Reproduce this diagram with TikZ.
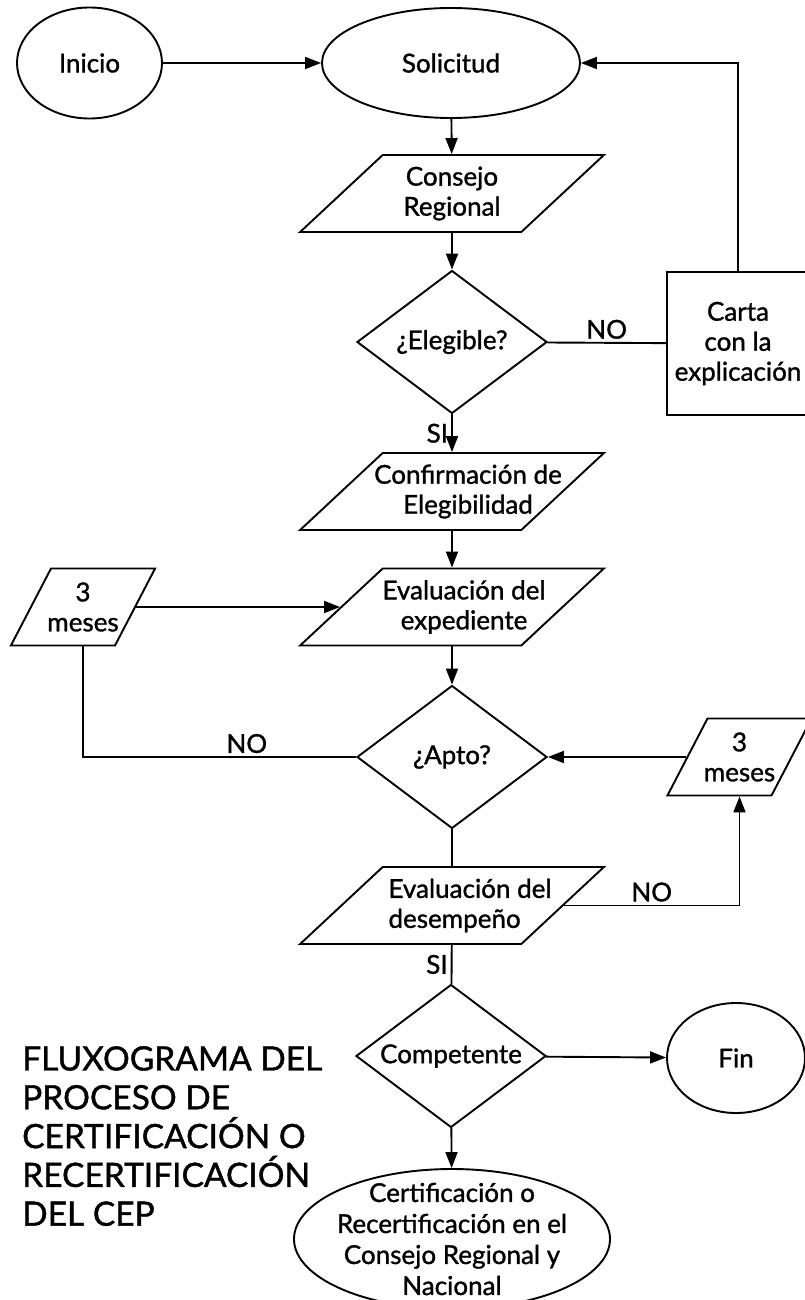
\documentclass[tikz,border=0pt]{standalone}
\usepackage{fontspec}
\setmainfont{Lato}[FakeBold=1.2]
\usetikzlibrary{shapes.geometric,arrows.meta}

\tikzset{
  linea/.style={line width=1.9pt},
  flecha/.style={linea, -{Triangle[length=16pt,width=12pt]}},
  terminal/.style={ellipse, draw, line width=1.9pt, inner sep=0pt},
  datos/.style={trapezium, draw, line width=1.9pt, trapezium left angle=43,
    trapezium right angle=137, inner xsep=69.3pt, inner ysep=38.5pt},
  plazo/.style={trapezium, draw, line width=1.9pt, trapezium left angle=62.5,
    trapezium right angle=117.5, inner xsep=32pt, inner ysep=38.5pt, align=center},
  decision/.style={diamond, draw, line width=1.9pt, inner sep=0pt, shape aspect=1.33,
    minimum width=190pt, minimum height=143pt},
  caja/.style={rectangle, draw, line width=1.9pt, minimum width=142pt,
    minimum height=143pt, align=center},
  etiqueta/.style={inner sep=3pt}
}

\begin{document}
\begin{tikzpicture}[x=1pt, y=-1pt, font=\fontsize{26}{30}\selectfont]
  \useasboundingbox (0,0) rectangle (804,1300);

  % Inicio y solicitud
  \node[terminal, minimum width=145pt, minimum height=111pt] (inicio) at (89.5,63) {Inicio};
  \node[terminal, minimum width=258pt, minimum height=110pt] (solicitud) at (451,63) {Solicitud};

  % Consejo regional y elegibilidad
  \node[datos, label={[align=center]center:Consejo\\Regional}] (consejo) at (452,193.5) {};
  \node[decision] (elegible) at (452,342) {¿Elegible?};
  \node[caja] (carta) at (738,343.5) {Carta\\con la\\explicación};
  \node[datos, label={[align=center, xshift=16pt]center:Confirmación de\\Elegibilidad}] (confirm) at (452,491.5) {};

  % Evaluacion del expediente
  \node[datos, label={[align=center, xshift=12pt]center:Evaluación del\\expediente}] (expediente) at (452,607) {};
  \node[plazo] (mesesL) at (83,607) {};
  \node at (mesesL) (txtL) [align=center] {3\\meses};
  \node[decision] (apto) at (452,757) {¿Apto?};
  \node[plazo] (mesesR) at (739.5,757) {};
  \node at (mesesR) (txtR) [align=center] {3\\meses};

  % Evaluacion del desempeno
  \node[datos, label={[align=left, xshift=18pt]center:Evaluación del\\desempeño}] (desempeno) at (452,905.5) {};
  \node[decision] (competente) at (451,1056) {Competente};
  \node[terminal, minimum width=138pt, minimum height=110pt] (fin) at (736,1058) {Fin};
  \node[terminal, inner sep=-10pt, minimum width=316pt, minimum height=140pt, align=center,
    font=\fontsize{26}{31}\selectfont] (certif) at (452,1239)
    {Certificación o\\Recertificación en el\\Consejo Regional y\\Nacional};

  % Titulo
  \node[anchor=north west, inner sep=0pt, align=left, font=\fontsize{33.5}{38.8}\selectfont] (titulo)
    at (22,1046) {FLUXOGRAMA DEL\\PROCESO DE\\CERTIFICACIÓN O\\RECERTIFICACIÓN\\DEL CEP};

  % Conectores
  \draw[flecha] (inicio) -- (solicitud);
  \draw[flecha] (solicitud) -- (consejo);
  \draw[flecha] (consejo) -- (elegible);
  \draw[linea] (elegible) -- node[etiqueta, above] (noE) {NO} (carta);
  \draw[flecha] (carta.north) |- (solicitud.east);
  \draw[flecha] (elegible) -- node[etiqueta, left] (siE) {SI} (confirm);
  \draw[flecha] (confirm) -- (expediente);
  \draw[flecha] (mesesL) -- (expediente);
  \draw[flecha] (expediente) -- (apto);
  \draw[linea] (apto.west) -| node[etiqueta, above, pos=0.2] (noA) {NO} (mesesL.south);
  \draw[flecha] (mesesR) -- (apto);
  \draw[linea] (apto) -- (desempeno);
  \draw[flecha] (desempeno) -| node[etiqueta, above, pos=0.25] (noD) {NO} (mesesR);
  \draw[linea] (desempeno) -- node[etiqueta, left] (siD) {SI} (competente);
  \draw[flecha] (competente) -- (fin);
  \draw[flecha] (competente) -- (certif);
\end{tikzpicture}
\end{document}
